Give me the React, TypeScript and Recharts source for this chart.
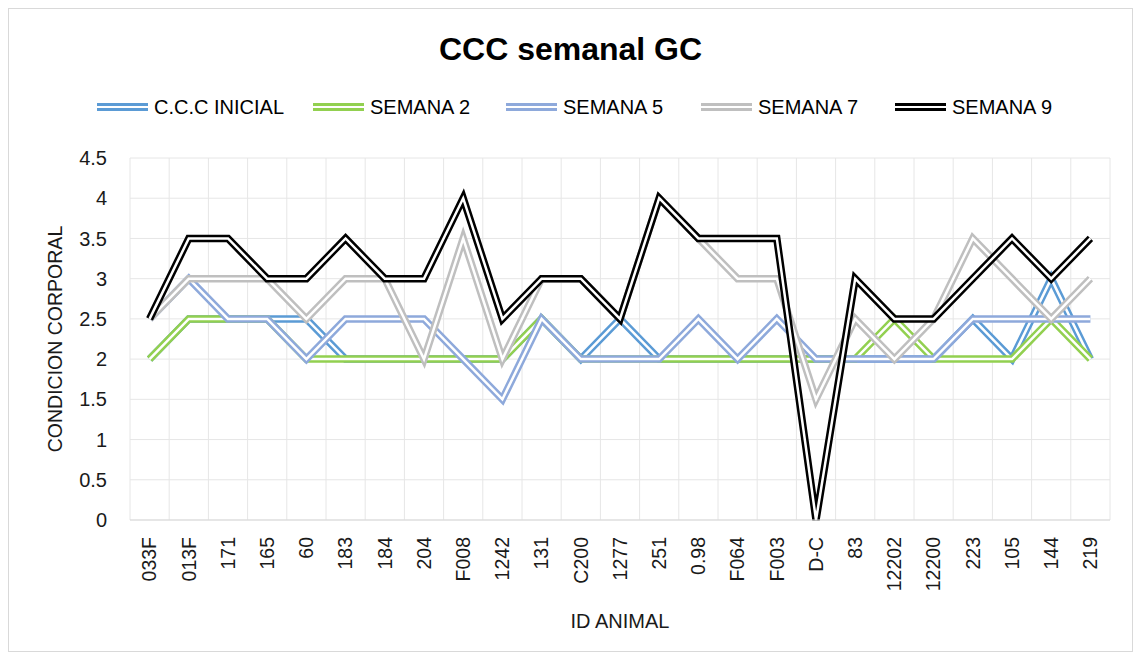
import { LineChart, Line, XAxis, YAxis, CartesianGrid } from "recharts";

const categories = [
  "033F", "013F", "171", "165", "60", "183", "184", "204", "F008", "1242",
  "131", "C200", "1277", "251", "0.98", "F064", "F003", "D-C", "83", "12202",
  "12200", "223", "105", "144", "219",
];

const cccInicial = [2, 2.5, 2.5, 2.5, 2.5, 2, 2, 2, 2, 2, 2.5, 2, 2.5, 2, 2, 2, 2, 2, 2, 2, 2, 2.5, 2, 3, 2];
const semana2 = [2, 2.5, 2.5, 2.5, 2, 2, 2, 2, 2, 2, 2.5, 2, 2, 2, 2, 2, 2, 2, 2, 2.5, 2, 2, 2, 2.5, 2];
const semana5 = [2.5, 3, 2.5, 2.5, 2, 2.5, 2.5, 2.5, 2, 1.5, 2.5, 2, 2, 2, 2.5, 2, 2.5, 2, 2, 2, 2, 2.5, 2.5, 2.5, 2.5];
const semana7 = [2.5, 3, 3, 3, 2.5, 3, 3, 2, 3.5, 2, 3, 3, 2.5, 4, 3.5, 3, 3, 1.5, 2.5, 2, 2.5, 3.5, 3, 2.5, 3];
const semana9 = [2.5, 3.5, 3.5, 3, 3, 3.5, 3, 3, 4, 2.5, 3, 3, 2.5, 4, 3.5, 3.5, 3.5, 0, 3, 2.5, 2.5, 3, 3.5, 3, 3.5];

const yTicks = [0, 0.5, 1, 1.5, 2, 2.5, 3, 3.5, 4, 4.5];

const SERIES = [
  { key: "ccc", name: "C.C.C INICIAL", color: "#5B9BD5" },
  { key: "s2", name: "SEMANA 2", color: "#92D050" },
  { key: "s5", name: "SEMANA 5", color: "#8EA9DB" },
  { key: "s7", name: "SEMANA 7", color: "#BFBFBF" },
  { key: "s9", name: "SEMANA 9", color: "#000000" },
];

// left edge of each legend entry inside the frame
const LEGEND_X = [88, 304, 497, 692, 886];

const data = categories.map((name, i) => ({
  name,
  ccc: cccInicial[i],
  s2: semana2[i],
  s5: semana5[i],
  s7: semana7[i],
  s9: semana9[i],
}));

const FONT = "'Liberation Sans', Arial, sans-serif";

// half a category band on each side, like Excel's "between tick marks"
const HALF_BAND = 979 / categories.length / 2;

function XTick(props: any) {
  const { x, y, payload } = props;
  return (
    <g transform={`translate(${x},${y + 17})`}>
      <text
        transform="rotate(-90)"
        textAnchor="end"
        dy="0.35em"
        fill="#1a1a1a"
        fontSize={19.5}
        fontFamily={FONT}
      >
        {payload.value}
      </text>
    </g>
  );
}

function DoubleLineIcon({ color }: { color: string }) {
  return (
    <svg width={51} height={10} style={{ display: "block" }}>
      <rect x={0} y={1} width={51} height={8} fill={color} />
      <rect x={0} y={4} width={51} height={2} fill="#fff" />
    </svg>
  );
}

export default function App() {
  return (
    <div
      style={{
        position: "relative",
        width: 1125,
        height: 644,
        border: "1px solid #d9d9d9",
        boxSizing: "border-box",
        background: "#fff",
      }}
    >
      {/* Title */}
      <div
        style={{
          position: "absolute",
          top: 24,
          left: 0,
          width: 1123,
          textAlign: "center",
          fontFamily: FONT,
          fontWeight: "bold",
          fontSize: 32,
          lineHeight: "32px",
          color: "#000",
        }}
      >
        CCC semanal GC
      </div>

      {/* Legend */}
      {SERIES.map((s, i) => (
        <div
          key={s.key}
          style={{
            position: "absolute",
            top: 88,
            left: LEGEND_X[i],
            display: "flex",
            alignItems: "center",
            gap: 6,
            fontFamily: FONT,
            fontSize: 20,
            lineHeight: "20px",
            color: "#000",
            whiteSpace: "nowrap",
          }}
        >
          <DoubleLineIcon color={s.color} />
          <span>{s.name}</span>
        </div>
      ))}

      <div style={{ position: "absolute", top: 0, left: 0 }}>
        <LineChart
          width={1123}
          height={642}
          data={data}
          margin={{ top: 149, right: 22, left: 30, bottom: 21 }}
        >
          <CartesianGrid
            stroke="#e6e6e6"
            strokeWidth={1}
            verticalCoordinatesGenerator={({ offset }: any) =>
              categories
                .concat([""])
                .map((_, i) => offset.left + (i * offset.width) / categories.length)
            }
          />
          <XAxis
            dataKey="name"
            interval={0}
            height={110}
            padding={{ left: HALF_BAND, right: HALF_BAND }}
            tickSize={0}
            tickMargin={0}
            tick={<XTick />}
            axisLine={{ stroke: "#d9d9d9" }}
            tickLine={false}
            label={{
              value: "ID ANIMAL",
              position: "insideBottom",
              offset: 2,
              fill: "#1a1a1a",
              fontSize: 20,
              fontFamily: FONT,
            }}
          />
          <YAxis
            type="number"
            domain={[0, 4.5]}
            ticks={yTicks}
            width={91}
            tickSize={0}
            tickMargin={23}
            axisLine={false}
            tickLine={false}
            tick={{ fill: "#1a1a1a", fontSize: 20, fontFamily: FONT }}
            label={{
              value: "CONDICION CORPORAL",
              angle: -90,
              position: "insideLeft",
              offset: 16,
              fill: "#1a1a1a",
              fontSize: 19.5,
              fontFamily: FONT,
              style: { textAnchor: "middle" },
            }}
          />
          {SERIES.flatMap((s) => [
            <Line
              key={s.key + "-outer"}
              dataKey={s.key}
              stroke={s.color}
              strokeWidth={7.5}
              dot={false}
              activeDot={false}
              isAnimationActive={false}
              legendType="none"
            />,
            <Line
              key={s.key + "-inner"}
              dataKey={s.key}
              stroke="#ffffff"
              strokeWidth={2.5}
              dot={false}
              activeDot={false}
              isAnimationActive={false}
              legendType="none"
            />,
          ])}
        </LineChart>
      </div>
    </div>
  );
}
